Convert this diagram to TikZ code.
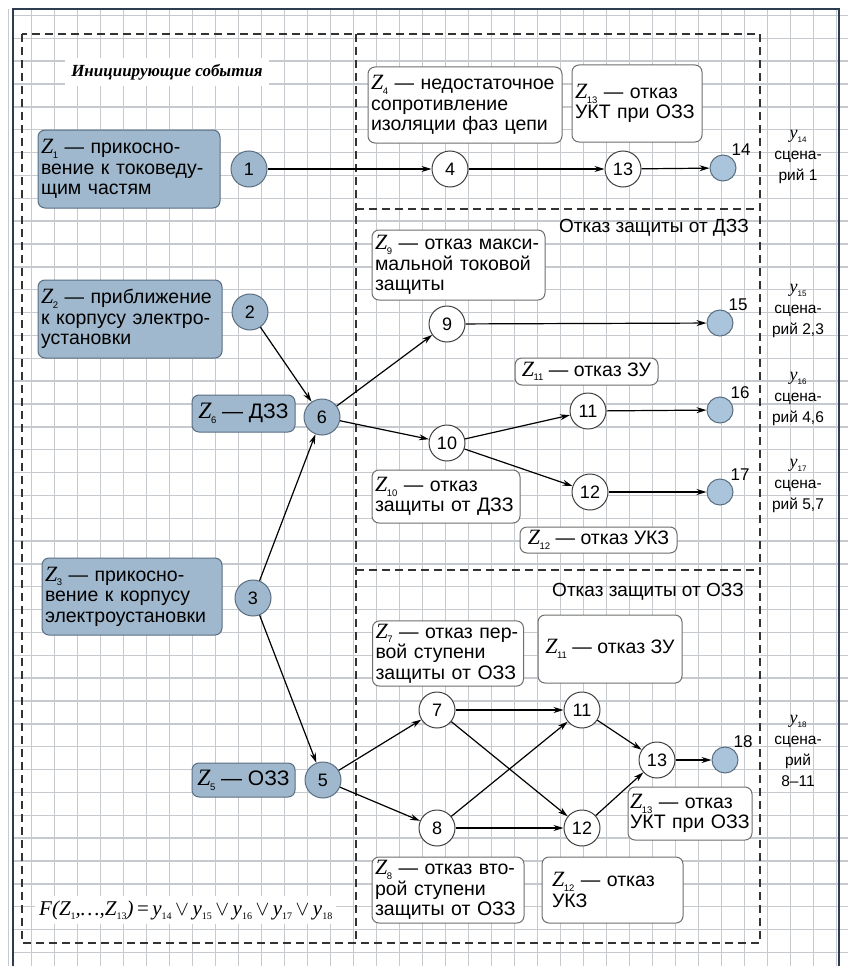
\documentclass[tikz,border=0pt]{standalone}
\usepackage{fontspec}
\setmainfont{Liberation Sans}
\newfontfamily\zfont{Liberation Serif}
\usetikzlibrary{arrows.meta}
\definecolor{boxblue}{RGB}{160,184,205}
\definecolor{dotblue}{RGB}{170,196,220}
\definecolor{boxedge}{RGB}{90,110,130}
\definecolor{gridc}{RGB}{198,202,206}
\definecolor{framec}{RGB}{45,60,80}
\definecolor{wedge}{RGB}{110,110,110}
\newcommand\Zi[1]{\scalebox{1.12}{\zfont\itshape Z}\kern-0.02em\raisebox{-0.45ex}{\fontsize{9.5}{9.5}\selectfont #1}}
\newcommand\Yi[1]{{\zfont\itshape\fontsize{18}{18}\selectfont y}\raisebox{-0.45ex}{\fontsize{8}{8}\selectfont #1}}
\newcommand\sbx[1]{\raisebox{-0.45ex}{\fontsize{10}{10}\selectfont\upshape #1}}
\begin{document}
\begin{tikzpicture}[x=1pt,y=-1pt,
  zb/.style={draw=boxedge, fill=boxblue, rounded corners=7, line width=1, align=left, inner sep=3,
     font=\fontsize{19.5}{20.5}\selectfont},
  wb/.style={draw=wedge, fill=white, rounded corners=7, line width=1, align=left, inner sep=3,
     font=\fontsize{19.5}{20.5}\selectfont},
  bc/.style={circle, draw=boxedge, fill=boxblue, minimum size=36, inner sep=0, line width=1,
     font=\fontsize{18}{18}\selectfont},
  wc/.style={circle, draw=black!75, fill=white, minimum size=36, inner sep=0, line width=1,
     font=\fontsize{18}{18}\selectfont},
  ec/.style={circle, draw=boxedge, fill=dotblue, minimum size=26, inner sep=0, line width=1},
  num/.style={font=\fontsize{17}{17}\selectfont, inner sep=0},
  ylab/.style={align=center, font=\fontsize{15.5}{21}\selectfont, inner sep=0},
  sect/.style={font=\fontsize{19}{20}\selectfont, inner sep=0},
  arr/.style={-{Stealth[length=10pt,width=6pt]}, line width=1.2},
  dashline/.style={draw=black!80, line width=1.3, dash pattern=on 8pt off 5pt}]
\useasboundingbox (0,0) rectangle (848,966);
\fill[white] (0,0) rectangle (848,966);
% grid
\foreach \i in {0,...,36} \draw[gridc, line width=1.4] ({8.7+23*\i},9) -- ({8.7+23*\i},966);
\foreach \j in {0,...,41} \draw[gridc, line width=1.4] (13,{15.5+22.85*\j}) -- (848,{15.5+22.85*\j});
% frame
\draw[framec, line width=2.5] (13,966) -- (13,9) -- (839,9) -- (839,966);
% dashed regions
\draw[dashline] (22,34) rectangle (760,943);
\draw[dashline] (356,34) -- (356,943);
\draw[dashline] (356,209) -- (760,209);
\draw[dashline] (356,570) -- (760,570);
% titles
\node[fill=white, inner sep=6, font=\fontsize{17}{17}\selectfont\zfont\bfseries\itshape] (title) at (167,72) {Инициирующие события};
\node[sect, anchor=east] (sdzz) at (749,228) {Отказ защиты от ДЗЗ};
\node[sect, anchor=east] (sozz) at (744,592) {Отказ защиты от ОЗЗ};
% left boxes
\node[zb, text width=176, minimum height=78] (z1) at (129,169) {\Zi{1} — прикосно-\\вение к токоведу-\\щим частям};
\node[zb, text width=178, minimum height=78] (z2) at (130,319) {\Zi{2} — приближение\\к корпусу электро-\\установки};
\node[zb, minimum width=103, minimum height=37, font=\fontsize{21}{21}\selectfont] (z6) at (243.5,413.5) {\Zi{6} — ДЗЗ};
\node[zb, text width=174, minimum height=77] (z3) at (132,596.5) {\Zi{3} — прикосно-\\вение к корпусу\\электроустановки};
\node[zb, minimum width=103, minimum height=34, font=\fontsize{21}{21}\selectfont] (z5) at (243.5,780) {\Zi{5} — ОЗЗ};
% right boxes
\node[wb, text width=188, minimum height=76] (z4) at (465,105) {\Zi{4} — недостаточное\\сопротивление\\изоляции фаз цепи};
\node[wb, text width=124, minimum height=77] (z13a) at (637,103.5) {\Zi{13} — отказ\\УКТ при ОЗЗ};
\node[wb, text width=167, minimum height=70] (z9) at (458.5,265) {\Zi{9} — отказ макси-\\мальной токовой\\защиты};
\node[wb, minimum width=143, minimum height=27] (z11a) at (586.5,371.5) {\Zi{11} — отказ ЗУ};
\node[wb, text width=142, minimum height=53] (z10) at (446,496.5) {\Zi{10} — отказ\\защиты от ДЗЗ};
\node[wb, minimum width=157, minimum height=26] (z12a) at (598.5,540) {\Zi{12} — отказ УКЗ};
\node[wb, text width=145, minimum height=63] (z7) at (448,653.5) {\Zi{7} — отказ пер-\\вой ступени\\защиты от ОЗЗ};
\node[wb, minimum width=144, minimum height=68] (z11b) at (610,649) {\Zi{11} — отказ ЗУ};
\node[wb, text width=120, minimum height=53, inner sep=2] (z13b) at (690,813.5) {\Zi{13} — отказ\\УКТ при ОЗЗ};
\node[wb, text width=146, minimum height=66] (z8) at (448,890) {\Zi{8} — отказ вто-\\рой ступени\\защиты от ОЗЗ};
\node[wb, text width=121, minimum height=66, inner sep=10] (z12b) at (612.5,890) {\Zi{12} — отказ\\УКЗ};
% circles
\node[bc] (c1) at (249,169) {1};
\node[bc] (c2) at (250,312) {2};
\node[bc] (c6) at (322,417) {6};
\node[bc] (c3) at (253,598) {3};
\node[bc] (c5) at (323,780) {5};
\node[wc] (c4) at (450,169) {4};
\node[wc] (c13a) at (623,169) {13};
\node[ec] (e14) at (723,168) {};
\node[wc] (c9) at (447,324) {9};
\node[ec] (e15) at (720,323) {};
\node[wc] (c11a) at (588,411) {11};
\node[ec] (e16) at (720,410) {};
\node[wc] (c10) at (447,443) {10};
\node[wc] (c12a) at (590,492) {12};
\node[ec] (e17) at (720,492) {};
\node[wc] (c7) at (437,710) {7};
\node[wc] (c11b) at (582,710) {11};
\node[wc] (c13b) at (657,760) {13};
\node[ec] (e18) at (725,760) {};
\node[wc] (c8) at (437,828) {8};
\node[wc] (c12b) at (582,828) {12};
% numbers
\node[num] (n14) at (741,150) {14};
\node[num] (n15) at (738,305) {15};
\node[num] (n16) at (740,393) {16};
\node[num] (n17) at (740,475) {17};
\node[num] (n18) at (743,742) {18};
% right labels
\node[ylab] (y14) at (798,157) {\Yi{14}\\сцена-\\рий 1};
\node[ylab] (y15) at (798,311) {\Yi{15}\\сцена-\\рий 2,3};
\node[ylab] (y16) at (798,399) {\Yi{16}\\сцена-\\рий 4,6};
\node[ylab] (y17) at (798,486) {\Yi{17}\\сцена-\\рий 5,7};
\node[ylab] (y18) at (798,751) {\Yi{18}\\сцена-\\рий\\8–11};
% formula
\node[fill=white, anchor=west, inner sep=4, font=\fontsize{21}{21}\selectfont\zfont\itshape] (formula) at (35,910)
  {F(Z\sbx{1},…,Z\sbx{13})\,{\upshape =}\,y\sbx{14}\,$\vee$\,y\sbx{15}\,$\vee$\,y\sbx{16}\,$\vee$\,y\sbx{17}\,$\vee$\,y\sbx{18}};
% connectors
\draw[arr] (c1) -- (c4);
\draw[arr] (c4) -- (c13a);
\draw[arr] (c13a) -- (e14);
\draw[arr] (c2) -- (c6);
\draw[arr] (c3) -- (c6);
\draw[arr] (c3) -- (c5);
\draw[arr] (c6) -- (c9);
\draw[arr] (c6) -- (c10);
\draw[arr] (c9) -- (e15);
\draw[arr] (c10) -- (c11a);
\draw[arr] (c10) -- (c12a);
\draw[arr] (c11a) -- (e16);
\draw[arr] (c12a) -- (e17);
\draw[arr] (c5) -- (c7);
\draw[arr] (c5) -- (c8);
\draw[arr] (c7) -- (c11b);
\draw[arr] (c7) -- (c12b);
\draw[arr] (c8) -- (c11b);
\draw[arr] (c8) -- (c12b);
\draw[arr] (c11b) -- (c13b);
\draw[arr] (c12b) -- (c13b);
\draw[arr] (c13b) -- (e18);
\end{tikzpicture}
\end{document}
